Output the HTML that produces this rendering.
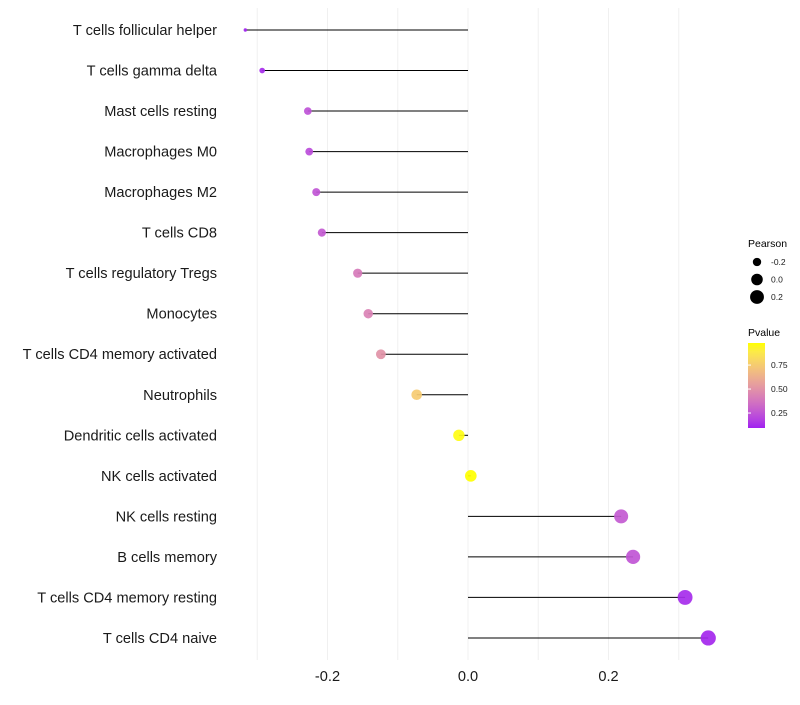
<!DOCTYPE html>
<html><head><meta charset="utf-8"><style>
body{margin:0;background:#fff;}
svg{font-family:"Liberation Sans",sans-serif;}
</style></head><body>
<svg id="chart" width="800" height="700">
<defs><linearGradient id="pg" x1="0" y1="1" x2="0" y2="0"></linearGradient></defs>
<g id="grid"></g>
<g id="marks"></g>
<g id="ylab"></g>
<g id="xlab"></g>
<g>
<text x="748" y="247" font-size="10.5">Pearson</text>
<g id="sizeLeg"></g>
</g>
<g>
<text x="748" y="336" font-size="10.5">Pvalue</text>
<rect x="748" y="343" width="17" height="85" fill="url(#pg)"/>
<g id="colLeg"></g>
</g>
</svg>
<script>
const categories=["T cells follicular helper","T cells gamma delta","Mast cells resting","Macrophages M0","Macrophages M2","T cells CD8","T cells regulatory  Tregs","Monocytes","T cells CD4 memory activated","Neutrophils","Dendritic cells activated","NK cells activated","NK cells resting","B cells memory","T cells CD4 memory resting","T cells CD4 naive"];
const pearson=[-0.317,-0.293,-0.228,-0.226,-0.216,-0.208,-0.157,-0.142,-0.124,-0.073,-0.013,0.004,0.218,0.235,0.309,0.342];
const pvalue=[0.1,0.12,0.24,0.22,0.25,0.27,0.4,0.43,0.5,0.75,0.97,0.99,0.27,0.25,0.12,0.11];
const xTicks=[-0.2,0,0.2];
const xGrid=[-0.3,-0.2,-0.1,0,0.1,0.2,0.3];
const sizeLegend=[-0.2,0,0.2];
const colorTicks=[0.25,0.5,0.75];
const NS="http://www.w3.org/2000/svg";
const X=v=>468+v*702.5;
const Y=i=>30+i*40.53;
const R=v=>1.7+5.9*Math.sqrt(Math.max(0,(v+0.317)/0.659));
const pMin=0.094,pMax=0.98;
function toLab(c){let [r,g,b]=c.map(x=>{x/=255;return x>0.04045?Math.pow((x+0.055)/1.055,2.4):x/12.92;});
let X_=(0.4124*r+0.3576*g+0.1805*b)/0.95047,Y_=0.2126*r+0.7152*g+0.0722*b,Z_=(0.0193*r+0.1192*g+0.9505*b)/1.08883;
const f=t=>t>0.008856?Math.cbrt(t):7.787*t+16/116;const fx=f(X_),fy=f(Y_),fz=f(Z_);
return [116*fy-16,500*(fx-fy),200*(fy-fz)];}
function fromLab(l){const fy=(l[0]+16)/116,fx=fy+l[1]/500,fz=fy-l[2]/200;
const fi=t=>t*t*t>0.008856?t*t*t:(t-16/116)/7.787;
const X_=fi(fx)*0.95047,Y_=fi(fy),Z_=fi(fz)*1.08883;
let r=3.2406*X_-1.5372*Y_-0.4986*Z_,g=-0.9689*X_+1.8758*Y_+0.0415*Z_,b=0.0557*X_-0.2040*Y_+1.0570*Z_;
return [r,g,b].map(x=>{x=x>0.0031308?1.055*Math.pow(x,1/2.4)-0.055:12.92*x;return Math.round(Math.max(0,Math.min(1,x))*255);});}
const LA=toLab([160,32,240]),LB=toLab([255,255,0]);
function colT(t){t=Math.max(0,Math.min(1,t));return `rgb(${fromLab(LA.map((c,k)=>c+(LB[k]-c)*t)).join(",")})`;}
function col(p){return colT((p-pMin)/(pMax-pMin));}
const grad=document.getElementById("pg");
for(let i=0;i<=10;i++){const s=document.createElementNS(NS,"stop");s.setAttribute("offset",i/10);s.setAttribute("stop-color",colT(i/10));grad.appendChild(s);}
function mk(tag,attrs,parent){const e=document.createElementNS(NS,tag);for(const k in attrs)e.setAttribute(k,attrs[k]);document.getElementById(parent).appendChild(e);return e;}
xGrid.forEach(v=>{const l=mk("line",{x1:X(v),x2:X(v),y1:8,y2:660,stroke:"#f0f0f0","stroke-width":1},"grid");

});
categories.forEach((c,i)=>{
const l=mk("line",{x1:X(0),x2:X(pearson[i]),y1:Y(i),y2:Y(i),stroke:"#000","stroke-width":1},"marks");


const d=mk("circle",{cx:X(pearson[i]),cy:Y(i),r:R(pearson[i]),fill:col(pvalue[i]),"fill-opacity":0.92},"marks");


const t=mk("text",{x:217,y:Y(i)+5,"text-anchor":"end","font-size":14.6,fill:"#1a1a1a"},"ylab");t.textContent=c;

});
xTicks.forEach(v=>{const t=mk("text",{x:X(v),y:681,"text-anchor":"middle","font-size":14.6,fill:"#1a1a1a"},"xlab");t.textContent=v===0?"0.0":v.toFixed(1);

});
sizeLegend.forEach((v,i)=>{const y=262+i*17.5;
const c=mk("circle",{cx:757,cy:y,r:R(v),fill:"#000"},"sizeLeg");


const t=mk("text",{x:771,y:y+3,"font-size":8.5,fill:"#1a1a1a"},"sizeLeg");t.textContent=v===0?"0.0":v.toFixed(1);

});
colorTicks.forEach(v=>{const y=428-(v-pMin)/(pMax-pMin)*85;
const l=mk("line",{x1:748,x2:751,y1:y,y2:y,stroke:"#fff"},"colLeg");


const t=mk("text",{x:771,y:y+3,"font-size":8.5,fill:"#1a1a1a"},"colLeg");t.textContent=v.toFixed(2);

});
</script>
</body></html>
